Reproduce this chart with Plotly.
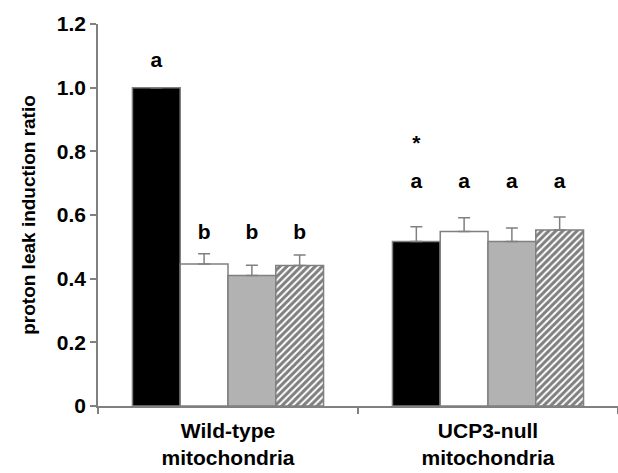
import plotly.graph_objects as go

categories = ["Wild-type<br>mitochondria", "UCP3-null<br>mitochondria"]
series_names = ["black", "white", "gray", "hatched"]
values = {
    "black": [1.00, 0.517],
    "white": [0.446, 0.548],
    "gray": [0.410, 0.517],
    "hatched": [0.441, 0.553],
}
errors = {
    "black": [0.0, 0.046],
    "white": [0.032, 0.043],
    "gray": [0.032, 0.042],
    "hatched": [0.033, 0.041],
}
letters = {
    "black": ["a", "a"],
    "white": ["b", "a"],
    "gray": ["b", "a"],
    "hatched": ["b", "a"],
}
letter_y = {
    "black": [1.08, 0.70],
    "white": [0.54, 0.70],
    "gray": [0.54, 0.70],
    "hatched": [0.54, 0.70],
}
star_text = ["", "*"]
star_y = [None, 0.82]
ytick_vals = [0, 0.2, 0.4, 0.6, 0.8, 1.0, 1.2]
ytick_text = ["0", "0.2", "0.4", "0.6", "0.8", "1.0", "1.2"]

FONT = "Liberation Sans, Arial, sans-serif"
EDGE = "#808080"
styles = {
    "black": dict(color="black"),
    "white": dict(color="white"),
    "gray": dict(color="#b2b2b2"),
    "hatched": dict(color="white", pattern=dict(shape="/", fgcolor="black", bgcolor="white", size=5, solidity=0.6)),
}

fig = go.Figure()
for name in series_names:
    fig.add_trace(go.Bar(
        x=categories, y=values[name], name=name, offsetgroup=name,
        marker=dict(**styles[name], line=dict(color=EDGE, width=1.5)),
        error_y=dict(type="data", array=errors[name], arrayminus=[0, 0], symmetric=False,
                     color=EDGE, thickness=1.5, width=6, visible=True),
        showlegend=False,
    ))
for name in series_names:
    fig.add_trace(go.Scatter(
        x=categories, y=letter_y[name], mode="text", text=letters[name], offsetgroup=name,
        textfont=dict(family=FONT, size=21, color="black", weight="bold"),
        showlegend=False, hoverinfo="skip",
    ))
fig.add_trace(go.Scatter(
    x=categories, y=star_y, mode="text", text=star_text, offsetgroup="black",
    textfont=dict(family=FONT, size=21, color="black", weight="bold"),
    showlegend=False, hoverinfo="skip",
))

fig.update_layout(
    width=618, height=473,
    margin=dict(l=98, r=0, t=24, b=67),
    paper_bgcolor="white", plot_bgcolor="white",
    barmode="group", scattermode="group", bargap=0.265, bargroupgap=0, scattergap=0.265,
    font=dict(family=FONT, color="black"),
    xaxis=dict(
        showline=True, linecolor=EDGE, linewidth=1.5, ticks="outside", tickson="boundaries",
        ticklen=6, tickcolor=EDGE, tickwidth=1.5, showgrid=False, zeroline=False,
        tickfont=dict(family=FONT, size=21, weight="bold"), ticklabelstandoff=5,
        automargin=False,
    ),
    yaxis=dict(
        range=[0, 1.2], showline=True, linecolor=EDGE, linewidth=1.5, ticks="outside",
        ticklen=6, tickcolor=EDGE, tickwidth=1.5, showgrid=False, zeroline=False,
        tickvals=ytick_vals, ticktext=ytick_text,
        tickfont=dict(family=FONT, size=21, weight="bold"), automargin=False,
        title=dict(text="proton leak induction ratio", font=dict(family=FONT, size=19, weight="bold"), standoff=16),
    ),
)

fig.write_html("out.html")
